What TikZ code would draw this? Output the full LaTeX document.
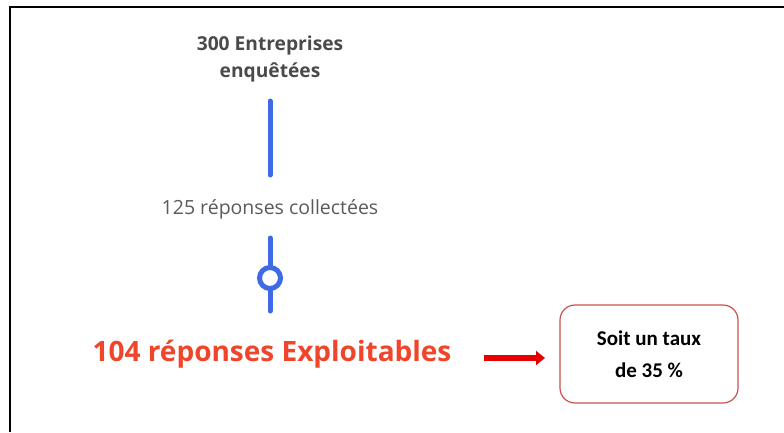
\documentclass[tikz,border=0pt]{standalone}
\usepackage{fontspec}
\setmainfont{Open Sans}
\newfontfamily\boxfont{Carlito}
\usetikzlibrary{arrows.meta}
\definecolor{tblue}{HTML}{3F6AE6}
\definecolor{tgray}{HTML}{4A4A4A}
\definecolor{lgray}{HTML}{5A5A5A}
\definecolor{tred}{HTML}{F0452A}
\definecolor{ared}{HTML}{E60000}
\definecolor{bred}{HTML}{C9504F}
\tikzset{
  stem/.style={draw=tblue, line width=5pt, line cap=round},
  title/.style={text=tgray, font=\bfseries\fontsize{19.2}{27}\selectfont, align=center},
  sub/.style={text=lgray, font=\fontsize{19.5}{22}\selectfont},
  big/.style={text=tred, font=\bfseries\fontsize{28}{32}\selectfont},
  ratebox/.style={draw=bred, line width=1.2pt, rounded corners=15pt, minimum width=178pt, minimum height=98pt, align=center, font=\boxfont\bfseries\fontsize{21}{32}\selectfont},
}
\begin{document}
\begin{tikzpicture}[x=1pt,y=-1pt]
\useasboundingbox (0,0) rectangle (784,432);
\draw[line width=2pt] (10,432) -- (10,7) -- (784,7);
\node[title] (t1) at (270,59) {300 Entreprises\\enquêtées};
\coordinate (l1a) at (270,101);
\coordinate (l1b) at (270,175);
\draw[stem] (l1a) -- (l1b);
\node[sub] (t2) at (270,209) {125 réponses collectées};
\coordinate (l2a) at (270,238);
\node[circle, draw=tblue, line width=5pt, minimum size=21pt, inner sep=0pt] (c) at (270,278) {};
\coordinate (l2b) at (270,311);
\draw[stem] (l2a) -- (c.north);
\draw[stem] (c.south) -- (l2b);
\node[big] (t3) at (272,354) {104 réponses Exploitables};
\node[ratebox] (box) at (649,354) {Soit un taux\\de 35 \%};
\coordinate (aa) at (484,358);
\coordinate (ab) at (545,358);
\draw[ared, line width=6pt, -{Triangle[length=9pt,width=14pt]}] (aa) -- (ab);
\end{tikzpicture}
\end{document}
